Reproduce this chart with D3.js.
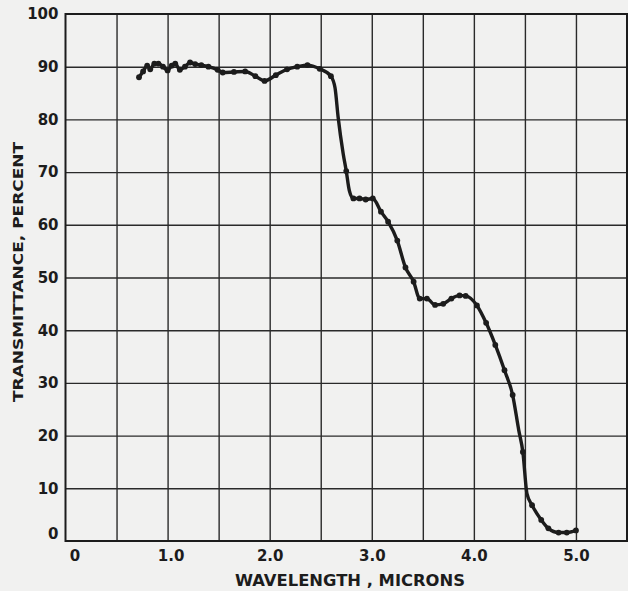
<!DOCTYPE html>
<html>
<head>
<meta charset="utf-8">
<script src="https://cdn.jsdelivr.net/npm/d3@7"></script>
<style>
  html, body { margin: 0; padding: 0; background: #f1f1f0; }
  svg { display: block; }
  text { font-family: "DejaVu Sans", sans-serif; fill: #1c1c1c; }
</style>
</head>
<body>
<svg id="chart" width="628" height="591"></svg>
<script>
// Transmittance spectrum, wavelength in microns vs. percent transmitted
const wavelength = [
  0.72, 0.76, 0.80, 0.83, 0.87, 0.91, 0.955, 1.00, 1.04, 1.075,
  1.12, 1.17, 1.22, 1.27, 1.33, 1.40, 1.49, 1.54, 1.65, 1.76,
  1.86, 1.95, 2.06, 2.17, 2.27, 2.37, 2.49, 2.60, 2.64, 2.67,
  2.72, 2.75, 2.78, 2.82, 2.88, 2.94, 3.01, 3.09, 3.16, 3.25,
  3.33, 3.41, 3.47, 3.54, 3.62, 3.70, 3.78, 3.86, 3.92, 4.03,
  4.12, 4.21, 4.30, 4.38, 4.44, 4.48, 4.52, 4.57, 4.66, 4.73,
  4.83, 4.91, 5.00
];
const transmittance = [
  88.0, 89.1, 90.2, 89.5, 90.6, 90.6, 90.0, 89.3, 90.2, 90.6,
  89.4, 90.0, 90.8, 90.5, 90.3, 90.0, 89.4, 88.9, 89.0, 89.1,
  88.2, 87.3, 88.4, 89.5, 90.0, 90.3, 89.6, 88.2, 86.0, 80.5,
  73.5, 70.2, 66.5, 65.0, 65.0, 64.8, 65.0, 62.5, 60.6, 57.0,
  51.9, 49.2, 46.0, 46.0, 44.8, 45.0, 46.0, 46.6, 46.5, 44.7,
  41.4, 37.2, 32.4, 27.7, 21.0, 16.9, 9.0, 6.8, 4.0, 2.4,
  1.6, 1.6, 2.0
];
// 1 = plotted reading (drawn with a dot), 0 = curve-only point
const measured = [
  1, 1, 1, 1, 1, 1, 1, 1, 1, 1,
  1, 1, 1, 1, 1, 1, 1, 1, 1, 1,
  1, 1, 1, 1, 1, 1, 1, 1, 0, 0,
  0, 1, 0, 1, 1, 1, 1, 1, 1, 1,
  1, 1, 1, 1, 1, 1, 1, 1, 1, 1,
  1, 1, 1, 1, 0, 1, 0, 1, 1, 1,
  1, 1, 1
];

const xTickValues = [0, 1, 2, 3, 4, 5];
const xGridValues = [0.5, 1, 1.5, 2, 2.5, 3, 3.5, 4, 4.5, 5];
const yTickValues = [0, 10, 20, 30, 40, 50, 60, 70, 80, 90, 100];
const yGridValues = [10, 20, 30, 40, 50, 60, 70, 80, 90];

const xTitle = "WAVELENGTH , MICRONS";
const yTitle = "TRANSMITTANCE,  PERCENT";

const svg = d3.select("#chart");
const margin = { left: 65.5, top: 14, right: 1, bottom: 50 };
const W = 628, H = 591;
const innerW = W - margin.left - margin.right;
const innerH = H - margin.top - margin.bottom;

const x = d3.scaleLinear().domain([0, 5.5]).range([margin.left, W - margin.right]);
const y = d3.scaleLinear().domain([0, 100]).range([H - margin.bottom, margin.top]);

const ink = "#1c1c1c";

// grid
const gx = svg.append("g")
  .attr("transform", `translate(0,${margin.top})`)
  .call(d3.axisBottom(x).tickValues(xGridValues).tickSize(innerH).tickFormat(""));
gx.select(".domain").remove();
gx.selectAll("line").attr("stroke", "#2a2a2a").attr("stroke-width", 1.4);

const gy = svg.append("g")
  .attr("transform", `translate(${margin.left},0)`)
  .call(d3.axisRight(y).tickValues(yGridValues).tickSize(innerW).tickFormat(""));
gy.select(".domain").remove();
gy.selectAll("line").attr("stroke", "#2a2a2a").attr("stroke-width", 1.4);

// frame
svg.append("rect")
  .attr("x", x(0)).attr("y", y(100))
  .attr("width", x(5.5) - x(0)).attr("height", y(0) - y(100))
  .attr("fill", "none").attr("stroke", ink).attr("stroke-width", 2);

// axis labels
const ax = svg.append("g")
  .attr("transform", `translate(0,${y(0)})`)
  .call(d3.axisBottom(x).tickValues(xTickValues).tickSize(0).tickPadding(9)
    .tickFormat(d => d === 0 ? "0" : d3.format(".1f")(d)));
ax.select(".domain").remove();
ax.selectAll("text")
  .attr("font-size", 15).attr("font-weight", "bold")
  .attr("font-family", "DejaVu Sans, sans-serif").attr("fill", ink)
  .attr("dx", d => d === 0 ? 9 : (d === 1 ? 3 : 0));

const ay = svg.append("g")
  .attr("transform", `translate(${x(0)},0)`)
  .call(d3.axisLeft(y).tickValues(yTickValues).tickSize(0).tickPadding(7));
ay.select(".domain").remove();
ay.selectAll("text")
  .attr("font-size", 15).attr("font-weight", "bold")
  .attr("font-family", "DejaVu Sans, sans-serif").attr("fill", ink)
  .attr("dy", d => d === 0 ? "-0.15em" : "0.32em");

// titles
svg.append("text")
  .attr("x", 350).attr("y", 586)
  .attr("text-anchor", "middle")
  .attr("font-size", 16).attr("font-weight", "bold")
  .attr("textLength", 230).attr("lengthAdjust", "spacingAndGlyphs")
  .text(xTitle);

svg.append("text")
  .attr("transform", "translate(23,272) rotate(-90)")
  .attr("text-anchor", "middle")
  .attr("font-size", 14).attr("font-weight", "bold")
  .attr("textLength", 260).attr("lengthAdjust", "spacingAndGlyphs")
  .text(yTitle);

// curve and measured points
const pts = wavelength.map((w, i) => ({ w, t: transmittance[i], m: measured[i] }));
const line = d3.line()
  .x(d => x(d.w)).y(d => y(d.t))
  .curve(d3.curveMonotoneX);

svg.append("path")
  .datum(pts)
  .attr("d", line)
  .attr("fill", "none").attr("stroke", ink)
  .attr("stroke-width", 3.4).attr("stroke-linejoin", "round").attr("stroke-linecap", "round");

svg.append("g").selectAll("circle")
  .data(pts.filter(d => d.m))
  .join("circle")
  .attr("cx", d => x(d.w)).attr("cy", d => y(d.t))
  .attr("r", 2.9).attr("fill", ink);
</script>
</body>
</html>
